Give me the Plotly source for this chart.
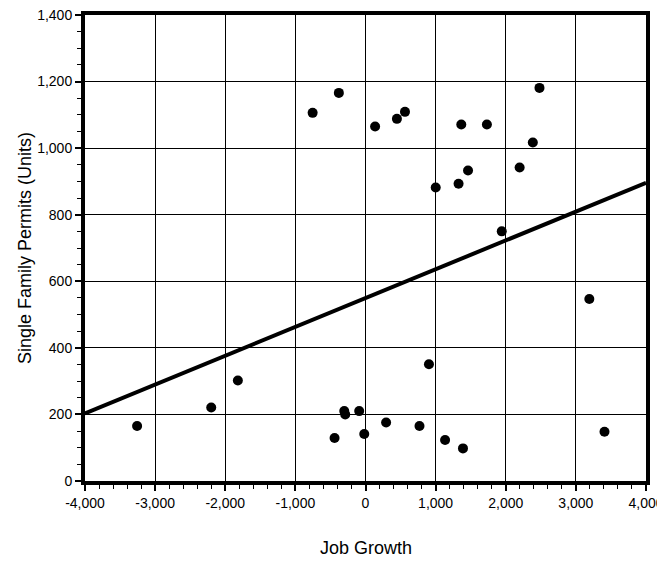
import plotly.graph_objects as go

# Scatter data: job growth vs single family permits
job_growth = [-3257, -2200, -1820, -441, -303, -289, -90, -18, 294, 770, 905, 1135, 1390, 3192, 3408,
              -754, -380, 137, 448, 563, 1366, 1731, 2481, 2386, 1001, 1327, 1462, 2198, 1943]
permits = [165, 221, 302, 129, 210, 200, 210, 141, 176, 165, 351, 123, 98, 547, 148,
           1106, 1166, 1065, 1088, 1109, 1071, 1071, 1181, 1017, 882, 893, 933, 942, 750]

# Trend line endpoints
trend_x = [-4000, 4000]
trend_y = [203, 896]

# Tick labels
x_tickvals = [-4000, -3000, -2000, -1000, 0, 1000, 2000, 3000, 4000]
x_ticktext = ["-4,000", "-3,000", "-2,000", "-1,000", "0", "1,000", "2,000", "3,000", "4,000"]
y_tickvals = [0, 200, 400, 600, 800, 1000, 1200, 1400]
y_ticktext = ["0", "200", "400", "600", "800", "1,000", "1,200", "1,400"]
x_title = "Job Growth"
y_title = "Single Family Permits (Units)"

fig = go.Figure()
fig.add_trace(go.Scatter(x=trend_x, y=trend_y, mode="lines",
                         line=dict(color="black", width=4), hoverinfo="skip"))
fig.add_trace(go.Scatter(x=job_growth, y=permits, mode="markers",
                         marker=dict(color="black", size=10), cliponaxis=False))

font_family = "Liberation Sans, Arial, sans-serif"
# The page body adds an 8px offset, so the figure is sized to fill the rest of the window.
fig.update_layout(
    width=657, height=553,
    margin=dict(l=77, r=19, t=7, b=80),
    paper_bgcolor="white", plot_bgcolor="white",
    showlegend=False,
    font=dict(family=font_family, color="black", size=14),
    xaxis=dict(
        range=[-4000, 4000], tickvals=x_tickvals, ticktext=x_ticktext,
        automargin=False, ticklabeloverflow="allow",
        showgrid=True, gridcolor="black", gridwidth=1.4,
        showline=True, linecolor="black", linewidth=4, mirror=True,
        ticks="outside", ticklen=6, tickcolor="black", tickwidth=1.5,
        minor=dict(dtick=200, ticks="outside", ticklen=4, tickcolor="black", tickwidth=1.2, showgrid=False),
        zeroline=False,
        tickfont=dict(size=14),
    ),
    yaxis=dict(
        range=[0, 1400], tickvals=y_tickvals, ticktext=y_ticktext,
        automargin=False, ticklabeloverflow="allow",
        showgrid=True, gridcolor="black", gridwidth=1.4,
        showline=True, linecolor="black", linewidth=4, mirror=True,
        ticks="outside", ticklen=6, tickcolor="black", tickwidth=1.5,
        minor=dict(dtick=50, ticks="outside", ticklen=4, tickcolor="black", tickwidth=1.2, showgrid=False),
        zeroline=False,
        tickfont=dict(size=14),
    ),
    annotations=[
        dict(text=x_title, xref="paper", yref="paper", x=0.5, y=-0.143,
             xanchor="center", yanchor="middle", showarrow=False, font=dict(size=18)),
        dict(text=y_title, xref="paper", yref="paper", x=-0.107, y=0.5, textangle=-90,
             xanchor="center", yanchor="middle", showarrow=False, font=dict(size=18)),
    ],
)

fig.write_html("out.html")
